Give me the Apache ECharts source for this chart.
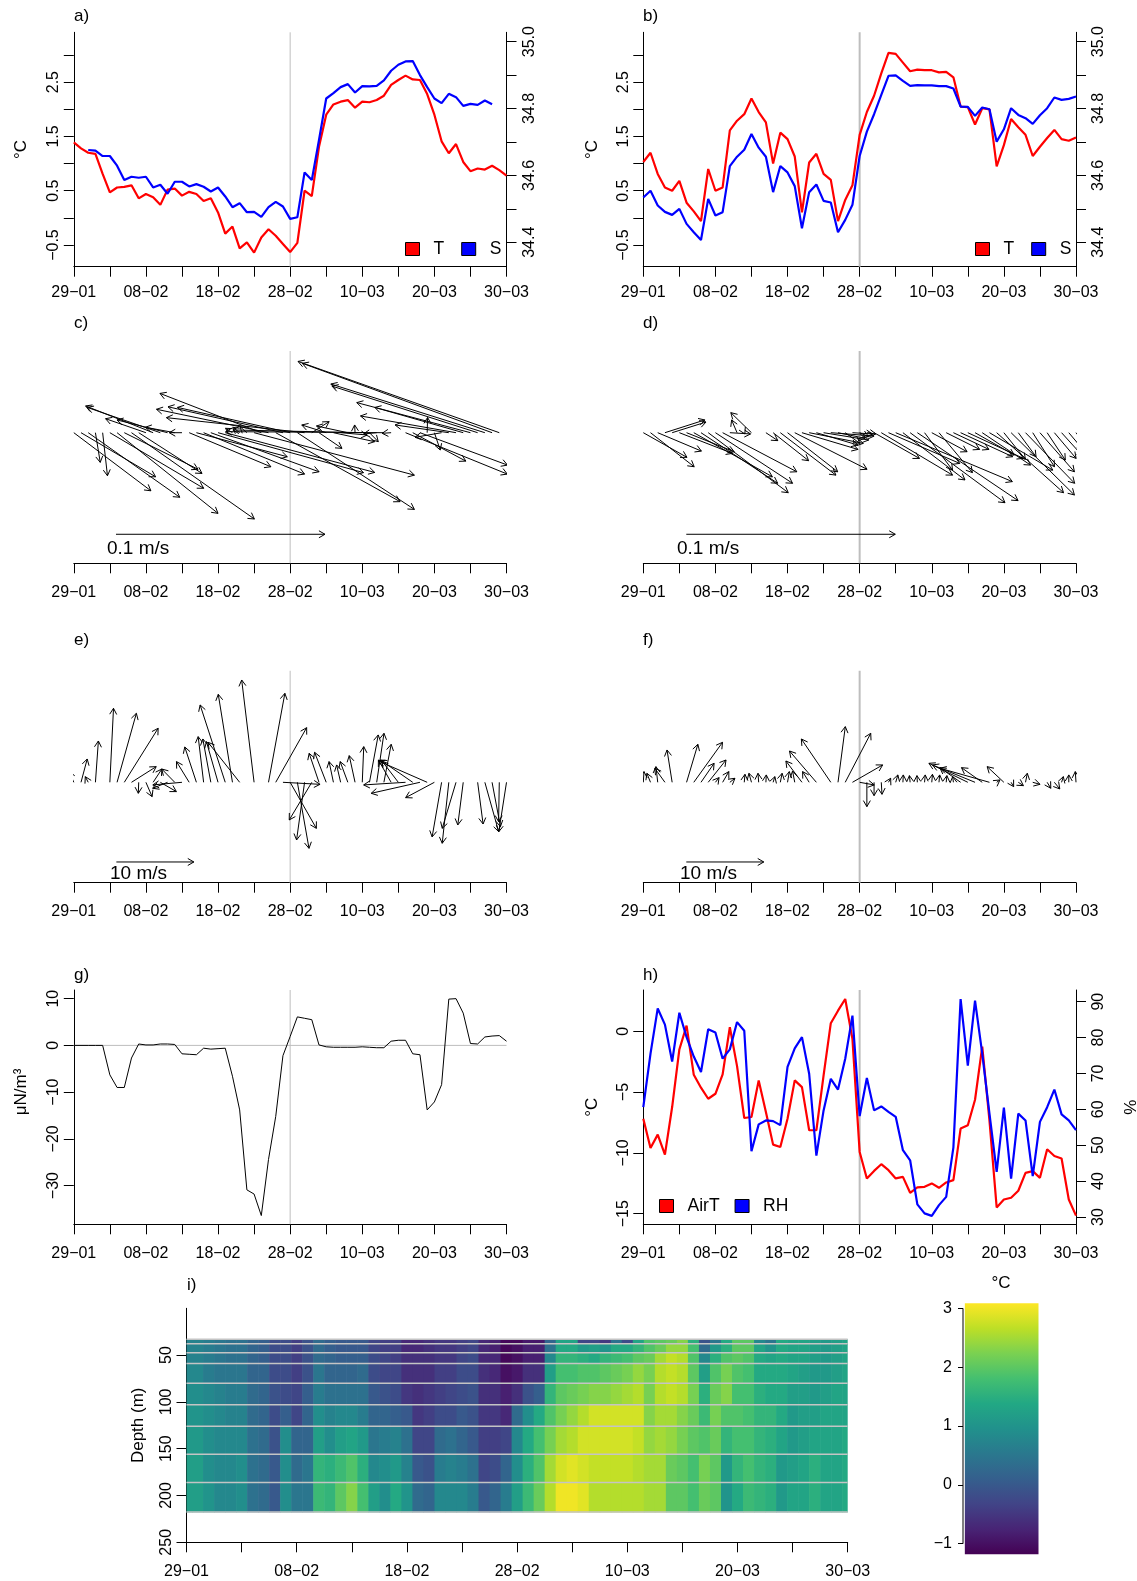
<!DOCTYPE html>
<html>
<head>
<meta charset="utf-8">
<script src="https://cdn.jsdelivr.net/npm/echarts@6.0.0/dist/echarts.min.js"></script>
<style>
  html, body { margin: 0; padding: 0; background: #fff; }
  #chart { width: 1137px; height: 1581px; }
</style>
</head>
<body>
<div id="chart"></div>
<script>
// ---- axis ticks / labels (x = days since 29-01) ----
const dayTicks = [0, 5, 10, 15, 20, 25, 30, 35, 40, 45, 50, 55, 60];
const dayLabelAt = [0, 10, 20, 30, 40, 50, 60];
const dateLabels = ['29−01', '08−02', '18−02', '28−02', '10−03', '20−03', '30−03'];

// ---- a) T and S ----
const tA = [1.39,1.28,1.20,1.18,0.81,0.47,0.56,0.57,0.60,0.36,
  0.44,0.38,0.24,0.52,0.54,0.41,0.48,0.44,0.31,0.36,
  0.10,-0.29,-0.16,-0.56,-0.45,-0.64,-0.36,-0.21,-0.33,-0.48,
  -0.63,-0.46,0.50,0.40,1.31,1.90,2.09,2.14,2.17,2.03,
  2.14,2.13,2.17,2.25,2.45,2.54,2.62,2.55,2.54,2.28,
  1.90,1.41,1.19,1.36,1.03,0.86,0.91,0.89,0.96,0.88,0.78];
const sA = [null,null,34.676,34.674,34.658,34.658,34.629,34.586,34.596,34.593,
  34.596,34.564,34.572,34.545,34.581,34.581,34.567,34.574,34.566,34.552,
  34.564,34.537,34.505,34.517,34.490,34.491,34.476,34.505,34.521,34.507,
  34.470,34.475,34.609,34.586,34.706,34.830,34.846,34.864,34.873,34.848,
  34.867,34.866,34.868,34.884,34.913,34.931,34.941,34.942,34.900,34.864,
  34.830,34.816,34.844,34.834,34.808,34.814,34.811,34.824,34.813,null,null];

// ---- b) T and S ----
const tB = [1.03,1.20,0.81,0.56,0.50,0.68,0.28,0.12,-0.06,0.90,
  0.50,0.56,1.61,1.79,1.91,2.20,1.95,1.76,1.00,1.57,
  1.45,1.13,0.10,1.02,1.18,0.81,0.70,-0.06,0.33,0.60,
  1.53,1.95,2.25,2.66,3.04,3.02,2.86,2.70,2.73,2.72,
  2.72,2.68,2.69,2.59,2.05,2.04,1.72,2.02,2.00,0.95,
  1.34,1.82,1.67,1.53,1.14,1.31,1.47,1.62,1.45,1.42,1.48];
const sB = [34.534,34.554,34.510,34.491,34.482,34.500,34.455,34.430,34.407,34.530,
  34.480,34.490,34.628,34.656,34.677,34.724,34.683,34.656,34.550,34.628,
  34.609,34.568,34.442,34.550,34.573,34.524,34.519,34.430,34.467,34.512,
  34.658,34.731,34.783,34.841,34.898,34.899,34.883,34.868,34.870,34.869,
  34.869,34.867,34.867,34.860,34.806,34.805,34.778,34.803,34.798,34.701,
  34.738,34.801,34.781,34.771,34.754,34.780,34.801,34.833,34.826,34.829,34.836];

// ---- c) d) currents, cm/s (east, north) ----
const uC = [3.69,3.57,4.38,0.23,0.23,4.49,4.83,3.53,5.88,3.03,
  -1.93,-3.23,-3.5,-2.42,-1.41,-0.61,3.91,4.35,4.83,5.18,
  6.96,7.15,-0.33,-0.33,-0.33,7.67,-4.85,-5.36,5.95,-5.5,
  -5.39,5.6,-6.61,0.83,1.1,-1.17,1.97,1.27,-1.5,-0.02,
  -6.19,0.42,-0.63,-7.57,-0.43,null,4.87,2.54,4.19,0.02,
  0.28,-1.27,-2.57,-4.57,-4.23,-5.44,-6.97,-7.37,-9.08,-9.63,null];
const vC = [-2.78,-2.11,-3.09,-1.42,-2.06,-2.66,-3.86,-1.75,-4.13,-1.95,
  0.67,1.28,1.21,0.61,0.26,0,-1.63,-1.15,-1.98,-1.87,
  -1.91,-1.9,0.21,0.26,0.29,-2.03,1.88,1.12,-3.3,1.24,
  1.21,-3.67,0.72,0.53,-0.75,0.37,-0.43,-0.11,0.32,0.37,
  0.13,-0.43,-0.06,0.05,-0.03,null,-1.98,-1.36,-1.55,0.73,
  -0.83,-0.22,0.37,0.8,1.21,1.44,2.23,2.33,3.32,3.41,null];
const uD = [2.09,2.09,2.09,1.91,1.62,2.54,2.28,3.76,3.67,3.83,
  3.69,3.55,0.99,-0.26,0.03,-0.99,null,0.57,1.70,2.66,
  2.40,3.46,2.68,2.59,1.98,2.16,2.07,1.30,0.70,0.96,
  0.43,0.43,2.17,3.41,3.41,5.58,2.97,4.54,4.82,1.34,
  1.69,1.60,1.60,1.70,2.49,2.66,1.88,2.31,3.03,3.2,
  1.03,3.03,0.85,2.35,1.04,1.65,0.87,1.04,1.04,0.7,0.52];
const vD = [-1.18,-1.63,-0.88,0.61,0.51,-0.99,-0.91,-2.11,-2.42,-2.87,
  -2.42,-1.87,-0.06,0.61,-0.06,0.96,null,-0.38,-1.34,-2.03,
  -1.87,-1.75,-0.8,-0.51,-0.59,-0.35,-0.16,-0.27,-0.51,-0.06,
  -0.19,-0.06,-1.23,-2.03,-1.47,-2.34,-2.26,-3.35,-3.25,-1.79,
  -0.91,-1.91,-0.8,-0.8,-1.15,-1.23,-1.07,-1.55,-1.79,-2.87,
  -1.28,-2.98,-1.15,-2.42,-1.63,-1.87,-1.31,-1.23,-1.15,-0.83,-0.67];

// ---- e) f) wind, m/s ----
const uE = [-0.61,0.8,-0.38,0.38,null,0.47,2.49,4.37,3.19,-0.05,
  0.8,1.13,2.07,-1.92,-1.69,-3.76,-1.64,-1.5,-0.7,-1.03,
  -1.5,-3.24,-1.83,-4.08,null,-1.6,null,2.11,3.99,4.79,
  3.38,1.5,-1.03,-2.91,-1.27,-1.5,-0.56,-0.52,-0.99,-0.75,
  0.19,1.13,0.94,0.94,-1.64,-2.11,-5.4,-4.18,-6.29,-6.29,
  -3.71,-1.22,-0.85,-1.78,-0.7,null,0.7,1.78,1.08,-0.09,-0.99];
const vE = [1.38,3.01,0.73,5.33,null,9.55,8.9,6.97,2.02,-1.42,
  -1.85,1.72,-1.2,-0.77,1.72,-0.34,2.67,4.56,5.89,5.59,
  5.25,9.98,11.35,5.16,null,13.2,null,11.48,7.05,-0.26,
  -5.94,-8.52,-7.44,-4.86,3.74,3.87,2.67,2.24,2.67,3.44,
  4.6,6.11,6.32,4.9,2.88,2.75,-0.34,2.88,-1.42,2.75,
  -1.98,-7.05,-7.87,-5.94,-5.5,null,-5.38,-6.37,-5.72,-5.08,-6.37];
const uF = [0.09,-0.47,-0.23,-1.31,-0.66,null,1.46,3.71,1.69,2.3,
  0.47,0.8,0.66,null,0.09,-0.33,-0.09,0.05,0.23,0.23,
  0.23,-0.28,-2.07,-0.85,-3.47,null,-3.8,0.94,3.29,3.9,
  1.88,0,0,0.09,0.28,0.28,0.05,-0.09,-0.05,0.09,
  0.09,0.09,0.09,-0.09,-2.68,-5.02,-5.49,-2.68,-6.38,0.42,
  -2.16,0.33,0.66,0.23,0.94,null,0.47,0.7,0.23,0,-0.09];
const vF = [1.38,1.16,2.02,1.81,4.17,null,4.9,5.16,2.45,2.88,
  0.6,1.38,0.52,null,1.03,1.16,1.16,0.95,0.73,1.16,
  1.38,1.46,2.75,1.38,4.04,null,5.59,7.18,6.32,2.24,
  -0.34,-3.14,-1.72,-1.55,0.52,0.95,0.95,0.86,0.86,0.95,
  1.03,0.95,0.86,0.73,1.89,2.45,2.24,1.89,1.81,0.3,
  2.02,-0.56,-0.43,1.16,-0.26,null,-0.77,-0.86,0.73,0.95,1.38];

// ---- g) stress ----
const stressG = [0,0,0,0,0,-6.3,-9.0,-9.0,-2.7,0.3,
  0.1,0.1,0.3,0.3,0.2,-1.8,-1.9,-2.0,-0.6,-0.8,
  -0.7,-0.6,-6.6,-13.8,-30.9,-31.8,-36.4,-24.4,-15.2,-2.2,
  1.9,6.1,5.8,5.5,0.1,-0.3,-0.4,-0.4,-0.4,-0.4,
  -0.3,-0.4,-0.5,-0.5,0.9,1.1,1.1,-1.8,-2.0,-13.8,
  -12.1,-8.4,9.9,10.0,6.9,0.4,0.3,1.8,2.0,2.1,0.9];

// ---- h) air temperature and humidity ----
const airT = [-7.19,-9.59,-8.5,-10.14,-6.23,-1.5,0.46,-3.58,-4.64,-5.55,
  -5.14,-3.55,0.33,-2.87,-7.13,-7.05,-4.04,-6.64,-9.32,-9.51,
  -7.19,-4.04,-4.59,-8.14,-8.14,-3.63,0.66,1.69,2.65,-0.63,
  -9.92,-12.1,-11.48,-10.93,-11.42,-12.1,-11.97,-13.28,-12.84,-12.79,
  -12.51,-12.87,-12.43,-12.24,-8.0,-7.73,-5.63,-1.26,-7.32,-14.48,
  -13.83,-13.69,-13.11,-11.64,-11.5,-12.05,-9.7,-10.25,-10.46,-13.83,-15.16];
const rh = [60.6,75.5,88.1,83.6,73.3,86.9,80.1,74.7,70.4,82.3,
  81.4,74.1,76.7,84.3,81.9,48.3,55.8,56.9,56.7,55.6,
  71.8,77.0,80.1,69.9,47.1,59.7,68.5,65.5,74.1,86.1,
  58.1,68.7,59.7,60.8,59.3,57.9,48.6,45.8,33.5,31.0,
  30.3,33.3,35.6,49.4,90.7,72.2,90.3,75.5,58.8,42.6,
  60.5,40.7,58.8,56.9,41.4,56.5,60.6,65.5,58.6,56.9,54.2];

// ---- i) temperature section: one row per layer between sensor depths ----
const sensorDepths = [33, 38, 47.5, 59, 80, 103, 126, 156, 186, 217.5];
const layerA = [0.7,0.7,0.6,0.5,0.4,0.4,0.2,0.1,-0.2,-0.2,
  -0.4,-0.1,0.3,0.1,0.0,0.0,0.0,-0.3,-0.4,-0.4,
  -0.7,-0.7,-0.6,-0.5,-0.5,-0.4,-0.3,-0.7,-0.8,-1.1,
  -1.1,-0.9,-0.9,0.2,1.3,1.3,-0.3,-0.3,-0.5,0.4,
  -0.2,1.3,1.9,2.0,2.1,2.3,1.5,-0.1,0.5,1.4,
  2.0,2.0,0.8,0.5,1.4,1.3,1.3,1.2,1.1,1.2,1.3];
const layerB = [0.7,0.7,0.6,0.5,0.4,0.4,0.2,0.1,-0.2,-0.2,
  -0.4,-0.1,0.3,0.1,0.0,0.0,0.0,-0.3,-0.4,-0.4,
  -0.7,-0.7,-0.6,-0.5,-0.5,-0.4,-0.3,-0.7,-0.8,-1.1,
  -1.0,-0.8,-0.8,0.4,1.4,1.4,1.1,1.2,1.0,1.4,
  1.4,1.6,1.9,2.1,2.4,2.4,1.8,0.3,1.1,1.5,
  2.0,2.0,1.3,1.0,1.4,1.3,1.3,1.2,1.1,1.2,1.3];
const layerC = [0.7,0.7,0.6,0.5,0.4,0.4,0.2,0.1,-0.2,-0.2,
  -0.4,-0.1,0.3,0.2,0.1,0.1,0.1,-0.2,-0.3,-0.4,
  -0.6,-0.6,-0.6,-0.5,-0.5,-0.3,-0.2,-0.7,-0.7,-1.1,
  -1.0,-0.8,-0.8,0.8,1.6,1.6,1.5,1.4,1.6,1.7,
  1.8,2.0,2.1,2.5,2.7,2.6,1.9,0.8,1.5,1.9,
  2.0,1.9,1.4,1.3,1.4,1.3,1.3,1.2,1.1,1.2,1.3];
const layerD = [0.8,0.8,0.6,0.5,0.5,0.5,0.2,0.2,-0.2,-0.2,
  -0.4,-0.1,0.5,0.2,0.2,0.2,0.3,-0.2,-0.3,-0.3,
  -0.6,-0.6,-0.6,-0.4,-0.4,-0.2,-0.2,-0.6,-0.7,-1.0,
  -0.9,-0.6,-0.6,1.2,1.8,1.8,1.9,1.9,2.0,2.1,
  2.2,2.4,2.2,2.6,2.7,2.6,2.0,1.2,1.9,2.2,
  1.9,1.8,1.4,1.4,1.4,1.3,1.2,1.1,1.1,1.2,1.3];
const layerE = [0.9,0.9,0.8,0.7,0.6,0.6,0.3,0.2,-0.1,-0.2,
  -0.3,0.1,0.6,0.4,0.4,0.4,0.4,0.0,-0.1,-0.2,
  -0.5,-0.6,-0.5,-0.4,-0.3,-0.2,-0.1,-0.6,-0.6,-0.8,
  -0.6,-0.1,0.1,1.6,2.0,2.1,2.2,2.3,2.3,2.4,
  2.5,2.6,2.2,2.6,2.7,2.6,2.2,1.5,2.1,2.3,
  1.8,1.8,1.5,1.4,1.4,1.2,1.2,1.1,1.2,1.3,1.3];
const layerF = [1.0,1.0,0.9,0.8,0.7,0.7,0.3,0.2,-0.2,0.1,
  -0.3,0.2,0.9,0.7,0.8,0.8,0.6,0.2,0.2,0.1,
  0.0,-0.5,-0.4,-0.2,-0.2,0.0,-0.1,-0.5,-0.5,-0.7,
  0.3,0.9,1.4,1.9,2.2,2.4,2.6,2.8,2.8,2.8,
  2.8,2.8,2.3,2.5,2.5,2.3,2.1,1.7,2.2,1.9,
  1.9,1.8,1.6,1.6,1.4,1.1,1.2,1.2,1.3,1.3,1.3];
const layerG = [1.1,1.1,0.9,0.8,0.8,0.8,0.4,0.3,-0.1,0.9,
  0.2,0.2,1.2,0.9,1.2,1.3,1.1,0.5,0.6,0.7,
  0.4,-0.3,-0.3,0.3,0.4,0.2,0.0,-0.4,-0.4,-0.3,
  0.8,1.4,1.8,2.2,2.5,2.6,2.8,2.8,2.8,2.8,
  2.8,2.7,2.4,2.5,2.4,2.2,2.0,1.9,2.1,1.6,
  1.8,1.8,1.6,1.5,1.3,1.1,1.2,1.3,1.3,1.3,1.4];
const layerH = [1.2,1.2,0.9,0.8,0.8,0.9,0.4,0.3,0.0,0.9,
  0.3,0.5,1.6,1.5,1.7,1.9,1.5,0.8,0.9,1.1,
  0.7,0.0,-0.1,0.6,0.7,0.6,0.4,-0.3,-0.2,0.2,
  0.9,1.5,1.9,2.5,2.8,2.9,2.8,2.7,2.7,2.7,
  2.7,2.6,2.5,2.5,2.1,2.0,1.8,2.2,2.0,1.1,
  1.6,1.8,1.6,1.5,1.1,1.2,1.3,1.5,1.3,1.3,1.4];
const layerI = [1.2,1.2,1.0,0.8,0.8,0.9,0.4,0.3,0.0,0.9,
  0.5,0.5,1.7,1.6,2.0,2.3,1.8,1.2,0.9,1.4,
  1.0,0.3,0.2,0.8,0.8,0.8,0.6,0.0,0.2,0.6,
  1.2,1.7,2.1,2.6,3.0,3.0,2.9,2.6,2.6,2.6,
  2.6,2.6,2.5,2.5,2.0,2.0,1.8,2.1,2.0,1.0,
  1.4,1.7,1.6,1.5,1.1,1.3,1.3,1.5,1.3,1.3,1.4];
const layers = [layerA, layerB, layerC, layerD, layerE, layerF, layerG, layerH, layerI];
const cMin = -1.18, cMax = 3.085;
const cbarTicks = [-1, 0, 1, 2, 3];

const FONT = '"Liberation Sans", Arial, Helvetica, sans-serif';
const GRAY = '#bebebe';

const viridisStops = ['#440154','#482475','#414487','#355f8d','#2a788e','#21918c',
  '#22a884','#44bf70','#7ad151','#bddf26','#fde725'];
function hexRgb(h) { return [1, 3, 5].map(i => parseInt(h.substr(i, 2), 16)); }
function viridis(val) {
  let t = (val - cMin) / (cMax - cMin);
  t = Math.max(0, Math.min(1, t));
  const f = t * 10, i = Math.min(9, Math.floor(f)), r = f - i;
  const a = hexRgb(viridisStops[i]), b = hexRgb(viridisStops[i + 1]);
  const c = a.map((x, k) => Math.round(x + (b[k] - x) * r));
  return 'rgb(' + c.join(',') + ')';
}
const minus = s => String(s).replace('-', '−');

// grids (pixel layout of the page)
const L1 = 73.8, L2 = 643.3, W = 432.7;
const grids = [
  { left: L1, top: 32.3, width: W, height: 234.4 },
  { left: L2, top: 32.3, width: W, height: 234.4 },
  { left: L1, top: 351, width: W, height: 212.3 },
  { left: L2, top: 351, width: W, height: 212.3 },
  { left: L1, top: 670.7, width: W, height: 212 },
  { left: L2, top: 670.7, width: W, height: 212 },
  { left: L1, top: 990, width: W, height: 234.3 },
  { left: L2, top: 990, width: W, height: 234.3 },
  { left: 186.5, top: 1308.3, width: 661.2, height: 234 },
  { left: 963, top: 1303.3, width: 75.5, height: 251 }
].map(g => Object.assign({ containLabel: false, outerBoundsMode: 'none' }, g));

const labelFont = { color: '#000', fontSize: 16, fontFamily: FONT };
function xAxisFor(gi, margin) {
  return {
    type: 'value', gridIndex: gi, min: 0, max: 60,
    axisLine: { show: true, onZero: false, lineStyle: { color: '#000', width: 1 } },
    axisTick: { show: true, length: 10, lineStyle: { color: '#000', width: 1 }, customValues: dayTicks },
    axisLabel: Object.assign({ customValues: dayLabelAt, margin: margin,
      formatter: v => dateLabels[Math.round(v / 10)] }, labelFont),
    splitLine: { show: false }
  };
}
function yAxisFor(gi, min, max, ticks, labs, opt) {
  opt = opt || {};
  return {
    type: 'value', gridIndex: gi, min: min, max: max, inverse: !!opt.inverse,
    position: opt.pos || 'left',
    name: opt.name || '', nameLocation: 'middle', nameGap: opt.nameGap || 40, nameRotate: 90,
    nameTextStyle: { color: '#000', fontSize: 17, fontFamily: FONT },
    axisLine: { show: opt.line !== false, onZero: false, lineStyle: { color: '#000', width: 1 } },
    axisTick: { show: true, length: opt.tick || 10, lineStyle: { color: '#000', width: 1 }, customValues: ticks },
    axisLabel: Object.assign({ customValues: labs, rotate: opt.rot === undefined ? 90 : opt.rot,
      margin: opt.margin || 12,
      formatter: v => minus(opt.dec === undefined ? v : v.toFixed(opt.dec)) }, labelFont),
    splitLine: { show: false }
  };
}
function hiddenY(gi, min, max) {
  return { type: 'value', gridIndex: gi, min: min, max: max, show: false, splitLine: { show: false } };
}

const yC = [-6.249, 3.909], yE = [-12.955, 14.4];
const yAB = [-0.899, 3.418], ySAB = [34.327, 35.028];
const yG = [-38.27, 11.85], yH = [-15.87, 3.39], yRH = [27.96, 93.24];

const xAxes = [];
for (let i = 0; i < 9; i++) xAxes.push(xAxisFor(i, i < 2 ? 18 : 21));
xAxes.push({ type: 'value', gridIndex: 9, min: -0.025, max: 1, show: false, splitLine: { show: false } });

const yAxes = [
  yAxisFor(0, yAB[0], yAB[1], [-0.5,0,0.5,1,1.5,2,2.5,3], [-0.5,0.5,1.5,2.5], { dec: 1, name: '°C', nameGap: 44 }),
  yAxisFor(0, ySAB[0], ySAB[1], [34.4,34.5,34.6,34.7,34.8,34.9,35.0], [34.4,34.6,34.8,35.0], { dec: 1, pos: 'right', margin: 15 }),
  yAxisFor(1, yAB[0], yAB[1], [-0.5,0,0.5,1,1.5,2,2.5,3], [-0.5,0.5,1.5,2.5], { dec: 1, name: '°C', nameGap: 42 }),
  yAxisFor(1, ySAB[0], ySAB[1], [34.4,34.5,34.6,34.7,34.8,34.9,35.0], [34.4,34.6,34.8,35.0], { dec: 1, pos: 'right', margin: 15 }),
  hiddenY(2, yC[0], yC[1]),
  hiddenY(3, yC[0], yC[1]),
  hiddenY(4, yE[0], yE[1]),
  hiddenY(5, yE[0], yE[1]),
  yAxisFor(6, yG[0], yG[1], [-30,-20,-10,0,10], [-30,-20,-10,0,10], {}),
  yAxisFor(7, yH[0], yH[1], [-15,-10,-5,0], [-15,-10,-5,0], { name: '°C', nameGap: 42 }),
  yAxisFor(7, yRH[0], yRH[1], [30,40,50,60,70,80,90], [30,40,50,60,70,80,90], { pos: 'right', name: '%', nameGap: 47, margin: 15 }),
  yAxisFor(8, 0, 250, [50,100,150,200,250], [50,100,150,200,250], { inverse: true, name: 'Depth (m)', nameGap: 40 }),
  yAxisFor(9, cMin, cMax, cbarTicks, cbarTicks, { rot: 0, line: false, tick: 5, margin: 11 })
];

const pairs = arr => arr.map((v, i) => [i, v]);
function lineSeries(name, xi, yi, data, color, width, z) {
  return { name: name, type: 'line', xAxisIndex: xi, yAxisIndex: yi, data: data,
    symbol: 'none', showSymbol: false, connectNulls: false, silent: true, z: z || 3,
    color: color, lineStyle: { color: color, width: width }, animation: false };
}
function vline(xi, yi, range, width) {
  return lineSeries('vl' + xi, xi, yi, [[30, range[0]], [30, range[1]]], GRAY, width, 1);
}

function arrowRender(params, api) {
  const d = api.value(0), u = api.value(1), v = api.value(2), y0 = api.value(3);
  const p0 = api.coord([d, y0]);
  const s = api.size([1, 1])[1];
  const p1 = [p0[0] + u * s, p0[1] - v * s];
  const style = { stroke: '#000', lineWidth: 1, fill: null };
  const kids = [{ type: 'line', shape: { x1: p0[0], y1: p0[1], x2: p1[0], y2: p1[1] }, style: style }];
  if (Math.hypot(p1[0] - p0[0], p1[1] - p0[1]) > 0.5) {
    const ang = Math.atan2(p1[1] - p0[1], p1[0] - p0[0]);
    const h = 7, a = Math.PI / 6;
    kids.push({ type: 'polyline', shape: { points: [
      [p1[0] - h * Math.cos(ang - a), p1[1] - h * Math.sin(ang - a)], p1,
      [p1[0] - h * Math.cos(ang + a), p1[1] - h * Math.sin(ang + a)]] }, style: style });
  }
  return { type: 'group', children: kids };
}
function quiver(xi, yi, us, vs, ref) {
  const data = [];
  us.forEach((u, i) => { if (u !== null && vs[i] !== null) data.push([i, u, vs[i], 0]); });
  data.push(ref);
  return { type: 'custom', xAxisIndex: xi, yAxisIndex: yi, data: data, renderItem: arrowRender,
    clip: true, silent: true, z: 3, animation: false };
}

const heatData = [];
layers.forEach((row, k) => row.forEach((val, d) => heatData.push([d, k, val])));

const series = [
  vline(0, 0, yAB, 1), vline(1, 2, yAB, 2), vline(2, 4, yC, 1), vline(3, 5, yC, 2),
  vline(4, 6, yE, 1), vline(5, 7, yE, 2), vline(6, 8, yG, 1), vline(7, 9, yH, 2),
  lineSeries('zero', 6, 8, [[0, 0], [60, 0]], GRAY, 1, 1),
  lineSeries('T', 0, 0, pairs(tA), '#ff0000', 2.2),
  lineSeries('S', 0, 1, pairs(sA), '#0000ff', 2.2),
  lineSeries('T', 1, 2, pairs(tB), '#ff0000', 2.2),
  lineSeries('S', 1, 3, pairs(sB), '#0000ff', 2.2),
  quiver(2, 4, uC, vC, [5.85, 10, 0, -4.86]),
  quiver(3, 5, uD, vD, [5.96, 10, 0, -4.86]),
  quiver(4, 6, uE, vE, [5.9, 10, 0, -10.28]),
  quiver(5, 7, uF, vF, [5.96, 10, 0, -10.28]),
  lineSeries('stress', 6, 8, pairs(stressG), '#000', 1),
  lineSeries('AirT', 7, 9, pairs(airT), '#ff0000', 2.2),
  lineSeries('RH', 7, 10, pairs(rh), '#0000ff', 2.2),
  {
    type: 'custom', xAxisIndex: 8, yAxisIndex: 11, data: heatData, silent: true, z: 1, animation: false,
    renderItem: function (params, api) {
      const d = api.value(0), k = api.value(1), val = api.value(2);
      const p0 = api.coord([Math.max(d - 0.5, 0), sensorDepths[k]]);
      const p1 = api.coord([Math.min(d + 0.5, 60), sensorDepths[k + 1]]);
      const extra = d < 60 ? 0.6 : 0;
      return { type: 'rect', shape: { x: p0[0], y: p0[1], width: p1[0] - p0[0] + extra, height: p1[1] - p0[1] + 0.6 },
        style: { fill: viridis(val) } };
    }
  }
].concat(sensorDepths.map((dep, i) => lineSeries('dep' + i, 8, 11, [[0, dep], [60, dep]], '#c4c4c4', 1.5, 2)))
.concat([
  {
    type: 'custom', xAxisIndex: 9, yAxisIndex: 12, data: [[cMin, cMax]], silent: true, animation: false,
    renderItem: function (params, api) {
      const p0 = api.coord([0, api.value(1)]);
      const p1 = api.coord([1, api.value(0)]);
      const stops = viridisStops.map((c, i) => ({ offset: 1 - i / 10, color: c })).reverse();
      return { type: 'rect', shape: { x: p0[0], y: p0[1], width: p1[0] - p0[0], height: p1[1] - p0[1] },
        style: { fill: new echarts.graphic.LinearGradient(0, 0, 0, 1, stops) } };
    }
  },
  lineSeries('cbarAxis', 9, 12, [[-0.025, cbarTicks[0]], [-0.025, cbarTicks[cbarTicks.length - 1]]], '#000', 1)
]);

const legendBase = {
  icon: 'rect', itemWidth: 14, itemHeight: 13, selectedMode: false, orient: 'horizontal',
  itemStyle: { borderColor: '#000', borderWidth: 1 },
  textStyle: { fontSize: 17.5, fontFamily: FONT, color: '#000', padding: [0, 0, 0, 9] }
};
const legends = [
  Object.assign({ data: ['T', 'S'], left: 400, top: 235, itemGap: 17 }, legendBase),
  Object.assign({ data: ['T', 'S'], left: 970, top: 235, itemGap: 17 }, legendBase),
  Object.assign({ data: ['AirT', 'RH'], left: 654, top: 1192, itemGap: 15 }, legendBase)
];

function txt(x, y, s, size, align, rot) {
  return { type: 'text', x: x, y: y, rotation: rot || 0, silent: true,
    style: { text: s, fontSize: size || 17, fontFamily: FONT, fill: '#000', align: align || 'left', verticalAlign: 'middle' } };
}
const graphics = [
  txt(74, 16, 'a)'), txt(643, 16, 'b)'), txt(74, 323, 'c)'), txt(643, 323, 'd)'),
  txt(74, 640, 'e)'), txt(643, 640, 'f)'), txt(74, 975, 'g)'), txt(643, 975, 'h)'),
  txt(187, 1285, 'i)'),
  txt(107, 549, '0.1 m/s', 19), txt(677, 549, '0.1 m/s', 19),
  txt(110, 874, '10 m/s', 19), txt(680, 874, '10 m/s', 19),
  txt(1001, 1283, '°C', 17, 'center'),
  txt(21, 1092, 'μN/m³', 17, 'center', Math.PI / 2)
];

const chart = echarts.init(document.getElementById('chart'), null, { renderer: 'canvas' });
chart.setOption({
  animation: false,
  backgroundColor: '#fff',
  textStyle: { fontFamily: FONT },
  grid: grids,
  xAxis: xAxes,
  yAxis: yAxes,
  legend: legends,
  graphic: graphics,
  series: series
});
</script>
</body>
</html>
